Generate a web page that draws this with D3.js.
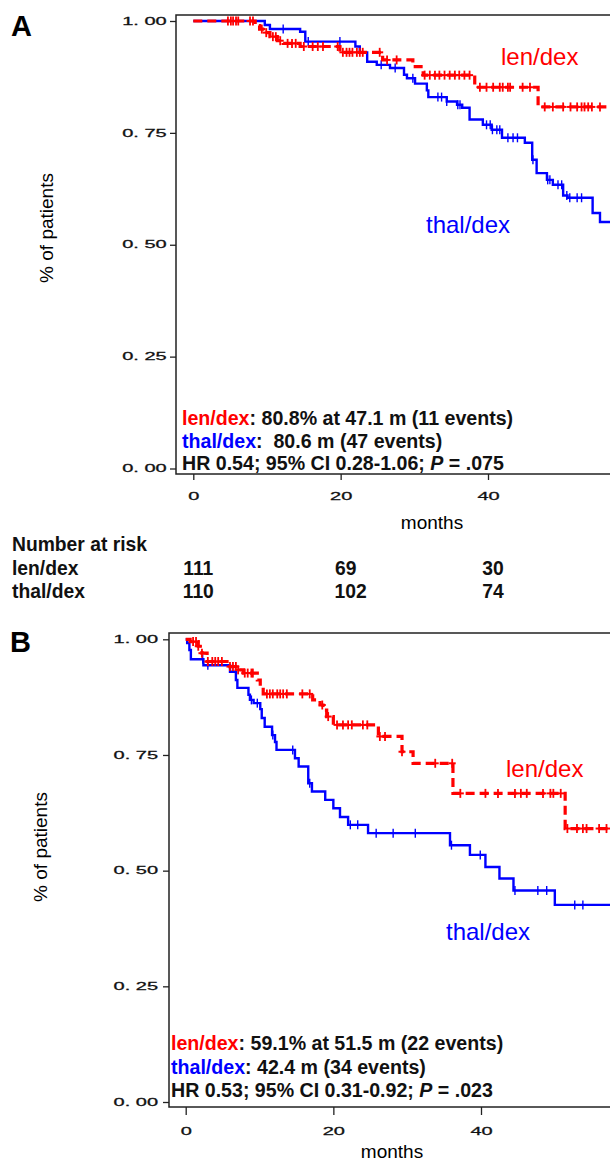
<!DOCTYPE html>
<html>
<head>
<meta charset="utf-8">
<script src="https://cdn.jsdelivr.net/npm/d3@7"></script>
<style>
  html, body { margin: 0; padding: 0; background: #fff; }
  svg { display: block; font-family: "Liberation Sans", Arial, sans-serif; }
</style>
</head>
<body>
<svg id="chart" width="610" height="1160"></svg>
<script>
// ---------------- DATA ----------------
const xTickValues = [0, 20, 40];
const yTickValues = [0, 0.25, 0.5, 0.75, 1];
const yTickLabels = ["0. 00", "0. 25", "0. 50", "0. 75", "1. 00"];

// Panel A (len/dex = red dashed, thal/dex = blue solid)
const aLenTimes = [0, 8.4, 9.0, 9.7, 10.4, 11.4, 12.2, 14.5, 19.9, 25.7, 29.8, 31.2, 38.2, 46.8, 57];
const aLenSurv  = [1, 0.99, 0.982, 0.974, 0.965, 0.956, 0.95, 0.943, 0.93, 0.913, 0.898, 0.879, 0.852, 0.808, 0.808];
const aLenCensor = [4.7, 5.1, 5.4, 5.8, 6.1, 7.7, 8.1, 9.3, 9.9, 10.8, 11.2, 11.8, 12.8, 13.4, 13.9, 15.0,
  16.2, 16.9, 17.6, 19.6, 20.3, 20.8, 21.2, 21.6, 22.2, 22.6, 23.0, 25.3, 26.3, 27.6, 31.4, 32.1, 32.8,
  33.4, 34.1, 34.8, 35.5, 36.1, 36.8, 37.5, 38.9, 39.8, 40.7, 41.6, 42.0, 42.7, 43.0, 44.7, 45.7, 47.7,
  48.8, 50.2, 51.2, 52.1, 52.7, 53.1, 53.6, 54.1, 55.2];

const aThalTimes = [0, 9.7, 10.4, 14.5, 15.2, 22.0, 22.6, 23.6, 24.9, 26.7, 28.6, 29.0, 30.1, 31.7, 31.9,
  34.4, 35.8, 36.5, 37.5, 39.3, 40.5, 41.9, 45.0, 46.0, 46.6, 48.0, 48.8, 50.2, 50.8, 54.2, 55.2, 57];
const aThalSurv = [1, 0.991, 0.982, 0.976, 0.954, 0.943, 0.93, 0.909, 0.902, 0.895, 0.88, 0.872, 0.86, 0.845, 0.83,
  0.82, 0.813, 0.806, 0.78, 0.768, 0.757, 0.739, 0.728, 0.69, 0.66, 0.645, 0.634, 0.61, 0.605, 0.571, 0.551, 0.551];
const aThalCensor = [12.2, 15.6, 19.9, 25.5, 27.4, 29.8, 33.2, 33.7, 34.4, 35.9, 36.2, 39.8, 40.3, 40.6, 41.2,
  41.6, 42.7, 43.4, 44.0, 46.1, 48.1, 48.4, 49.5, 50.0, 50.7, 51.1, 52.1, 52.7];

// Panel B
const bLenTimes = [0, 0.6, 1.7, 2.2, 2.9, 5.6, 7.1, 7.8, 9.7, 10.1, 10.5, 17.2, 18.2, 18.6, 19.1, 20.0,
  26.1, 29.3, 30.8, 36.2, 51.4, 58];
const bLenSurv = [1, 0.995, 0.985, 0.97, 0.952, 0.941, 0.934, 0.927, 0.912, 0.897, 0.882, 0.869, 0.858, 0.847,
  0.833, 0.815, 0.79, 0.757, 0.732, 0.667, 0.591, 0.591];
const bLenCensor = [1.0, 1.4, 1.7, 2.2, 3.0, 3.6, 4.0, 4.4, 4.9, 6.0, 6.4, 6.8, 7.1, 8.0, 8.4, 8.9, 9.1,
  11.0, 11.4, 11.8, 12.4, 12.8, 13.2, 13.7, 15.8, 16.8, 18.5, 19.3, 20.5, 21.3, 22.0, 22.5, 24.0, 24.6,
  26.3, 27.0, 29.3, 33.8, 36.1, 37.2, 40.6, 42.3, 44.6, 45.4, 46.2, 48.4, 49.4, 49.8, 50.8, 51.7, 53.0,
  53.8, 54.3, 56.0, 57.0];

const bThalTimes = [0, 0.2, 0.5, 0.7, 2.4, 6.0, 6.8, 7.0, 8.5, 8.7, 9.2, 10.1, 10.3, 10.7, 11.7, 12.1, 12.3,
  14.8, 15.3, 16.6, 17.1, 18.9, 20.0, 20.9, 22.0, 24.7, 35.8, 38.5, 40.6, 42.5, 44.4, 50.0, 58];
const bThalSurv = [1, 0.992, 0.977, 0.957, 0.944, 0.93, 0.912, 0.895, 0.88, 0.869, 0.862, 0.849, 0.83, 0.811,
  0.793, 0.778, 0.761, 0.743, 0.725, 0.689, 0.671, 0.653, 0.635, 0.616, 0.599, 0.581, 0.555, 0.534, 0.508,
  0.483, 0.457, 0.426, 0.426];
const bThalCensor = [2.3, 3.0, 8.9, 9.7, 11.8, 14.5, 16.8, 22.3, 23.3, 25.8, 28.1, 31.1, 36.0, 39.9, 44.6,
  47.7, 48.9, 52.7, 53.8];

// Risk table (panel A)
const riskTimes = [0, 20, 40];
const riskLen = [111, 69, 30];
const riskThal = [110, 102, 74];

// Legend texts
const legendA = [
  [["len/dex", "red"], [": 80.8% at 47.1 m (11 events)", "black"]],
  [["thal/dex", "blue"], [":  80.6 m (47 events)", "black"]],
  [["HR 0.54; 95% CI 0.28-1.06; ", "black"], ["P", "black", "italic"], [" = .075", "black"]]
];
const legendB = [
  [["len/dex", "red"], [": 59.1% at 51.5 m (22 events)", "black"]],
  [["thal/dex", "blue"], [": 42.4 m (34 events)", "black"]],
  [["HR 0.53; 95% CI 0.31-0.92; ", "black"], ["P", "black", "italic"], [" = .023", "black"]]
];

// ---------------- DRAW ----------------
const svg = d3.select("#chart");
const RED = "#ff0000", BLUE = "#0000ff";

function survAt(times, surv, t) {
  let i = d3.bisectRight(times, t) - 1;
  if (i < 0) i = 0;
  return surv[i];
}

function panel(cfg) {
  const x = d3.scaleLinear().domain([0, 40]).range([cfg.x0, cfg.x40]);
  const y = d3.scaleLinear().domain([0, 1]).range([cfg.y0, cfg.y1]);
  const g = svg.append("g");

  // box
  g.append("rect")
    .attr("x", cfg.boxLeft).attr("y", cfg.boxTop)
    .attr("width", 640 - cfg.boxLeft).attr("height", cfg.boxBottom - cfg.boxTop)
    .attr("fill", "none").attr("stroke", "#222").attr("stroke-width", 1.5);

  // y axis
  const ya = g.append("g").attr("transform", `translate(${cfg.boxLeft},0)`)
    .call(d3.axisLeft(y).tickValues(yTickValues).tickSize(6)
      .tickFormat((d, i) => yTickLabels[i]));
  ya.select(".domain").remove();
  ya.selectAll(".tick line").attr("stroke", "#222").attr("stroke-width", 1.3);
  ya.selectAll(".tick text")
    .attr("x", cfg.yLabelOffset / 2)
    .attr("transform", "scale(2,1)")
    .attr("font-size", 10).attr("fill", "#111")
    .attr("stroke", "#111").attr("stroke-width", 0.25)
    .attr("font-family", "Liberation Sans, Arial, sans-serif");

  // x axis
  const xa = g.append("g").attr("transform", `translate(0,${cfg.boxBottom})`)
    .call(d3.axisBottom(x).tickValues(xTickValues).tickSize(cfg.xTickSize).tickFormat(d3.format("d")));
  xa.select(".domain").remove();
  xa.selectAll(".tick line").attr("stroke", "#222").attr("stroke-width", 1.3);
  xa.selectAll(".tick text")
    .attr("y", cfg.xLabelY).attr("dy", 0)
    .attr("transform", "scale(2,1)")
    .attr("font-size", 10).attr("fill", "#111")
    .attr("stroke", "#111").attr("stroke-width", 0.25)
    .attr("font-family", "Liberation Sans, Arial, sans-serif");

  // clip curves to inside box
  const clipId = "clip" + cfg.id;
  svg.append("clipPath").attr("id", clipId).append("rect")
    .attr("x", cfg.boxLeft).attr("y", cfg.boxTop - 6)
    .attr("width", 700).attr("height", cfg.boxBottom - cfg.boxTop + 6);
  const cg = g.append("g").attr("clip-path", `url(#${clipId})`);

  const line = d3.line().x(d => x(d[0])).y(d => y(d[1])).curve(d3.curveStepAfter);

  cfg.series.forEach(s => {
    const pts = s.times.map((t, i) => [t, s.surv[i]]);
    cg.append("path").attr("d", line(pts))
      .attr("fill", "none").attr("stroke", s.color)
      .attr("stroke-width", s.width)
      .attr("stroke-dasharray", s.dash || null);
    cg.selectAll(null).data(s.censor).enter().append("line")
      .attr("x1", d => x(d)).attr("x2", d => x(d))
      .attr("y1", d => y(survAt(s.times, s.surv, d)) - 4.5)
      .attr("y2", d => y(survAt(s.times, s.surv, d)) + 4.5)
      .attr("stroke", s.color).attr("stroke-width", s.censorWidth);
    if (s.crossHalf) {
      cg.selectAll(null).data(s.censor).enter().append("line")
        .attr("x1", d => x(d) - s.crossHalf).attr("x2", d => x(d) + s.crossHalf)
        .attr("y1", d => y(survAt(s.times, s.surv, d)))
        .attr("y2", d => y(survAt(s.times, s.surv, d)))
        .attr("stroke", s.color).attr("stroke-width", 2);
    }
  });

  // curve labels
  cfg.labels.forEach(l => {
    g.append("text").attr("x", l.x).attr("y", l.y).attr("font-size", 24)
      .attr("fill", l.color).text(l.text);
  });

  // panel letter
  g.append("text").attr("x", cfg.letterX).attr("y", cfg.letterY)
    .attr("font-size", 29).attr("font-weight", "bold").text(cfg.letter);

  // y label
  g.append("text")
    .attr("transform", `translate(${cfg.yTitleX},${cfg.yTitleY}) rotate(-90)`)
    .attr("text-anchor", "middle").attr("dominant-baseline", "central")
    .attr("font-size", 19).text("% of patients");

  // x label
  g.append("text").attr("x", cfg.xTitleX).attr("y", cfg.xTitleY)
    .attr("text-anchor", "middle").attr("font-size", 19).text("months");

  // legend
  cfg.legend.forEach((row, i) => {
    const t = g.append("text").attr("x", cfg.legX).attr("y", cfg.legY[i])
      .attr("font-size", 19.6).attr("font-weight", "bold")
      .style("white-space", "pre");
    row.forEach(p => {
      t.append("tspan").attr("fill", p[1] === "red" ? RED : p[1] === "blue" ? BLUE : "#111")
        .attr("font-style", p[2] || null).text(p[0]);
    });
  });

  return x;
}

const xA = panel({
  id: "A", letter: "A", letterX: 11, letterY: 36,
  x0: 193.3, x40: 488, y0: 468.5, y1: 21,
  boxLeft: 176, boxTop: 15, boxBottom: 474,
  yLabelOffset: -9.3, xTickSize: 6, xLabelY: 26.5,
  yTitleX: 46, yTitleY: 228, xTitleX: 432, xTitleY: 529,
  legX: 182, legY: [425, 448.3, 470],
  legend: legendA,
  series: [
    { times: aThalTimes, surv: aThalSurv, censor: aThalCensor, color: BLUE, width: 2.4, censorWidth: 1.4 },
    { times: aLenTimes, surv: aLenSurv, censor: aLenCensor, color: RED, width: 3.2, dash: "9,5", censorWidth: 1.8, crossHalf: 3.5 }
  ],
  labels: [
    { text: "len/dex", x: 501, y: 65, color: RED },
    { text: "thal/dex", x: 426, y: 233, color: BLUE }
  ]
});

panel({
  id: "B", letter: "B", letterX: 10, letterY: 652,
  x0: 185.7, x40: 481, y0: 1102, y1: 639.3,
  boxLeft: 169, boxTop: 633, boxBottom: 1107,
  yLabelOffset: -11, xTickSize: 8, xLabelY: 28.5,
  yTitleX: 40, yTitleY: 847, xTitleX: 392, xTitleY: 1157.5,
  legX: 171, legY: [1050, 1074, 1096.7],
  legend: legendB,
  series: [
    { times: bThalTimes, surv: bThalSurv, censor: bThalCensor, color: BLUE, width: 2.4, censorWidth: 1.4 },
    { times: bLenTimes, surv: bLenSurv, censor: bLenCensor, color: RED, width: 3.2, dash: "9,5", censorWidth: 1.8, crossHalf: 3.5 }
  ],
  labels: [
    { text: "len/dex", x: 506, y: 777, color: RED },
    { text: "thal/dex", x: 446, y: 940, color: BLUE }
  ]
});

// Risk table
const rt = svg.append("g").attr("font-size", 19.3).attr("font-weight", "bold").attr("fill", "#111");
rt.append("text").attr("x", 12).attr("y", 551).text("Number at risk");
rt.append("text").attr("x", 12).attr("y", 574.5).text("len/dex");
rt.append("text").attr("x", 12).attr("y", 597.5).text("thal/dex");
rt.selectAll(null).data(riskTimes).enter().append("text")
  .attr("x", d => xA(d) + 5).attr("y", 574.5).attr("text-anchor", "middle")
  .text((d, i) => riskLen[i]);
rt.selectAll(null).data(riskTimes).enter().append("text")
  .attr("x", (d, i) => xA(d) + (i === 1 ? 10 : 5)).attr("y", 597.5).attr("text-anchor", "middle")
  .text((d, i) => riskThal[i]);
</script>
</body>
</html>
